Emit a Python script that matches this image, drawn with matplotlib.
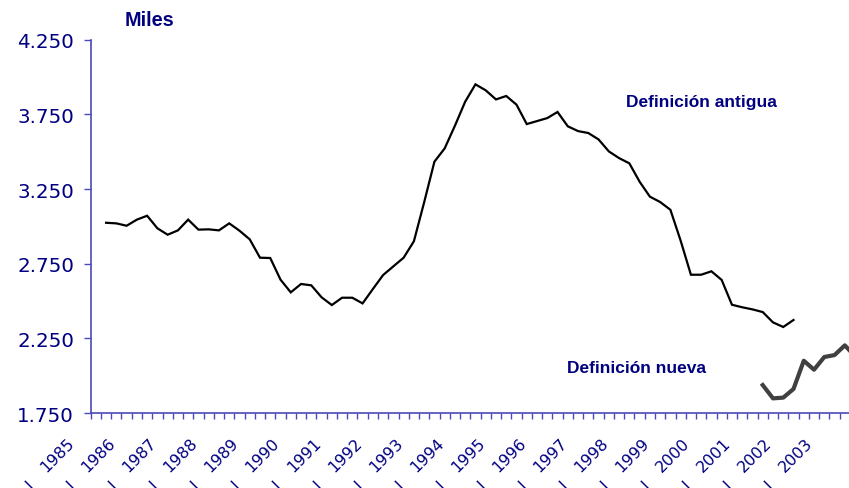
import matplotlib
matplotlib.use("Agg")
import matplotlib.pyplot as plt
from matplotlib.ticker import FuncFormatter, MultipleLocator
import numpy as np
import pandas as pd

# quarterly series, thousands ("Miles")
quarters = pd.period_range("1985Q1", "2003Q4", freq="Q")
antigua_start = "1985Q2"
antigua = [3024, 3020, 3004, 3045, 3071, 2987, 2944, 2973, 3045, 2978, 2980,
           2973, 3020, 2971, 2913, 2790, 2788, 2643, 2558, 2614, 2605, 2525,
           2473, 2522, 2522, 2484, 2580, 2674, 2732, 2790, 2900, 3161, 3433,
           3522, 3674, 3835, 3951, 3911, 3850, 3873, 3815, 3685, 3705, 3725,
           3766, 3670, 3638, 3625, 3582, 3502, 3457, 3422, 3299, 3199, 3163,
           3111, 2904, 2676, 2676, 2699, 2641, 2475, 2458, 2444, 2426, 2357,
           2326, 2373]
nueva_start = "2001Q2"
nueva = [1937, 1848, 1853, 1911, 2100, 2040, 2125, 2138, 2203, 2130]
years = list(range(1985, 2004))
quarter_label = "I"
yticks = [1750, 2250, 2750, 3250, 3750, 4250]

navy = "#000080"
axcol = "#4a4ab8"

s_old = pd.Series(antigua, index=pd.period_range(antigua_start, periods=len(antigua), freq="Q"))
s_new = pd.Series(nueva, index=pd.period_range(nueva_start, periods=len(nueva), freq="Q"))
s_old = s_old.reindex(quarters)
s_new = s_new.reindex(quarters)
x = np.arange(len(quarters))

fig = plt.figure(figsize=(8.49, 4.89), dpi=100)
ax = fig.add_axes([90.7 / 849, 75 / 489, 1 - 90.7 / 849, (414 - 40.7) / 489])

ax.plot(x, s_old.values, color="black", lw=1.6, solid_joinstyle="miter")
ax.plot(x, s_new.values, color="#404040", lw=3.0)

ax.set_xlim(-0.5, -0.5 + (849 - 90.7) / 10.26)
ax.set_ylim(1750, 4250)
ax.set_yticks(yticks)
ax.yaxis.set_major_formatter(FuncFormatter(lambda v, p: f"{v:,.0f}".replace(",", ".")))
ax.tick_params(axis="y", direction="out", length=5, width=1, color=axcol,
               labelcolor=navy, labelsize=14.3, pad=7)

ax.xaxis.set_major_locator(MultipleLocator(1, offset=0.5))
ax.xaxis.set_major_formatter(FuncFormatter(lambda v, p: ""))
ax.tick_params(axis="x", direction="out", length=4, width=1, color=axcol)

for s in ["top", "right"]:
    ax.spines[s].set_visible(False)
for s in ["left", "bottom"]:
    ax.spines[s].set_color(axcol)
    ax.spines[s].set_linewidth(1.2)

# two-level category labels: year and quarter
for yr in years:
    i = quarters.get_loc(pd.Period(f"{yr}Q1", freq="Q"))
    ax.annotate(str(yr), xy=(i, 0), xycoords=("data", "axes fraction"),
                xytext=(-35.5, -42.4), textcoords="offset points",
                rotation=45, rotation_mode="anchor", ha="left", va="baseline",
                fontsize=11.5, color=navy, annotation_clip=False)
    ax.annotate(quarter_label, xy=(i, 0), xycoords=("data", "axes fraction"),
                xytext=(-51, -47.5), textcoords="offset points",
                rotation=45, rotation_mode="anchor", ha="center", va="top",
                fontsize=11.5, color=navy, annotation_clip=False)

bold = dict(family="Liberation Sans", fontweight="bold", color=navy)
fig.text(149 / 849, 1 - 20 / 489, "Miles", ha="center", va="center", fontsize=14.3, **bold)
fig.text(626 / 849, 1 - 102 / 489, "Definición antigua", ha="left", va="center", fontsize=12.5, **bold)
fig.text(567 / 849, 1 - 369 / 489, "Definición nueva", ha="left", va="center", fontsize=12.5, **bold)

fig.savefig("out.png", dpi=100)
